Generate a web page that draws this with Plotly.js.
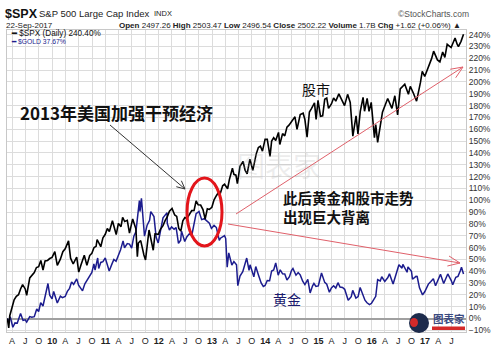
<!DOCTYPE html>
<html>
<head>
<meta charset="utf-8">
<script src="https://cdn.plot.ly/plotly-3.0.1.min.js"></script>
<style>html,body{margin:0;padding:0;background:#fff}#chart{width:500px;height:351px}</style>
</head>
<body>
<div id="chart"></div>
<script>
// ---- Data (percent change since 27-Feb-2009) ----
const spxDates = ["2009-02-27","2009-03-09","2009-03-16","2009-03-31","2009-04-15","2009-04-30","2009-05-15","2009-05-29","2009-06-12","2009-06-30","2009-07-10","2009-07-31","2009-08-14","2009-08-31","2009-09-15","2009-09-30","2009-10-15","2009-10-30","2009-11-13","2009-11-30","2009-12-15","2009-12-31",
"2010-01-19","2010-02-05","2010-02-26","2010-03-15","2010-03-31","2010-04-23","2010-05-07","2010-05-25","2010-06-18","2010-07-02","2010-07-16","2010-07-30","2010-08-09","2010-08-27","2010-09-15","2010-09-30","2010-10-15","2010-10-29","2010-11-05","2010-11-30","2010-12-15","2010-12-31",
"2011-01-14","2011-01-28","2011-02-18","2011-03-16","2011-03-31","2011-04-18","2011-04-29","2011-05-13","2011-05-31","2011-06-15","2011-06-30","2011-07-07","2011-07-29","2011-08-08","2011-08-15","2011-08-31","2011-09-22","2011-10-03","2011-10-27","2011-11-25","2011-12-07","2011-12-30",
"2012-01-13","2012-01-31","2012-02-15","2012-02-29","2012-03-15","2012-04-02","2012-04-20","2012-05-04","2012-05-18","2012-06-01","2012-06-15","2012-06-29","2012-07-13","2012-07-31","2012-08-15","2012-08-31","2012-09-14","2012-09-28","2012-10-15","2012-10-31","2012-11-15","2012-11-30","2012-12-14","2012-12-31",
"2013-01-15","2013-01-31","2013-02-15","2013-02-28","2013-03-15","2013-03-28","2013-04-18","2013-04-30","2013-05-21","2013-05-31","2013-06-14","2013-06-24","2013-07-12","2013-08-02","2013-08-16","2013-08-30","2013-09-18","2013-10-08","2013-10-31","2013-11-15","2013-11-29","2013-12-13","2013-12-31",
"2014-01-15","2014-02-03","2014-02-14","2014-02-28","2014-03-14","2014-04-02","2014-04-11","2014-04-30","2014-05-15","2014-05-30","2014-06-13","2014-06-30","2014-07-24","2014-08-07","2014-08-29","2014-09-18","2014-09-30","2014-10-15","2014-10-31","2014-11-14","2014-11-28","2014-12-05","2014-12-16","2014-12-29",
"2015-01-15","2015-01-30","2015-02-13","2015-02-27","2015-03-11","2015-03-31","2015-04-15","2015-04-30","2015-05-21","2015-06-12","2015-06-29","2015-07-20","2015-08-07","2015-08-25","2015-09-16","2015-09-29","2015-10-15","2015-11-03","2015-11-13","2015-12-01","2015-12-14","2015-12-29",
"2016-01-20","2016-01-29","2016-02-11","2016-02-29","2016-03-15","2016-04-20","2016-05-19","2016-06-08","2016-06-27","2016-07-15","2016-08-15","2016-09-09","2016-09-22","2016-10-14","2016-11-04","2016-11-30","2016-12-13","2016-12-30",
"2017-01-26","2017-02-15","2017-03-01","2017-03-27","2017-04-13","2017-05-02","2017-05-17","2017-06-02","2017-06-29","2017-07-26","2017-08-10","2017-08-18","2017-09-05","2017-09-22"];
const spxPct = [0,-7.9,2.4,8.6,15.9,18.8,20.1,25.0,28.7,25.0,19.6,34.3,36.7,38.9,43.1,43.8,49.1,41.0,48.7,49.1,50.7,51.7,
56.5,45.0,50.2,56.5,59.0,65.6,51.0,46.1,52.0,39.2,44.9,49.9,53.5,44.9,53.2,55.2,60.0,61.0,66.8,60.7,68.2,71.2,
76.1,73.6,82.7,71.0,80.4,77.6,85.6,82.0,83.0,72.2,79.7,84.2,75.8,52.2,63.8,65.9,53.7,49.5,74.8,57.7,71.6,71.2,
75.4,78.5,82.9,85.9,90.7,93.1,87.5,86.3,76.2,73.9,82.6,85.3,84.5,87.6,91.2,91.4,99.5,96.1,95.9,92.1,84.1,92.7,92.2,94.0,
100.3,103.8,106.8,106.1,112.2,113.5,109.7,117.4,127.1,121.9,121.2,114.0,128.6,132.7,125.3,122.2,134.7,125.3,139.0,144.6,145.7,141.5,151.4,
151.4,137.0,150.1,152.9,150.5,157.3,147.1,156.3,154.4,161.8,163.5,166.7,170.5,159.9,172.5,173.6,168.3,153.3,174.6,177.4,181.4,182.3,168.4,184.4,
171.0,171.4,185.3,186.4,177.6,181.4,186.5,183.8,189.9,184.9,180.0,189.5,182.7,154.1,171.4,156.1,175.2,186.9,175.2,186.1,175.1,182.7,
152.9,163.9,148.8,162.9,174.3,186.0,177.6,188.3,172.1,194.1,198.0,189.5,196.2,190.2,183.7,199.2,209.0,204.6,
212.5,219.7,226.0,218.6,216.9,225.3,220.7,231.8,229.1,237.1,231.7,229.9,234.3,240.4];

const goldDates = ["2009-02-27","2009-03-09","2009-03-19","2009-04-06","2009-04-21","2009-05-06","2009-05-29","2009-06-15","2009-06-30","2009-07-10","2009-07-31","2009-08-14","2009-08-31","2009-09-17","2009-09-30","2009-10-14","2009-10-30","2009-11-13","2009-11-30","2009-12-03","2009-12-15","2009-12-31",
"2010-01-11","2010-01-28","2010-02-05","2010-02-26","2010-03-12","2010-03-31","2010-04-15","2010-04-30","2010-05-14","2010-05-28","2010-06-18","2010-07-01","2010-07-28","2010-08-13","2010-08-31","2010-09-15","2010-09-30","2010-10-14","2010-10-22","2010-11-09","2010-11-16","2010-11-30","2010-12-15","2010-12-31",
"2011-01-27","2011-02-15","2011-02-28","2011-03-15","2011-03-31","2011-04-15","2011-05-02","2011-05-12","2011-05-31","2011-06-15","2011-06-30","2011-07-15","2011-07-29","2011-08-10","2011-08-22","2011-08-26","2011-09-05","2011-09-26","2011-10-14","2011-10-31","2011-11-08","2011-11-30","2011-12-15","2011-12-29",
"2012-01-13","2012-01-31","2012-02-28","2012-02-29","2012-03-15","2012-03-30","2012-04-16","2012-04-30","2012-05-16","2012-05-31","2012-06-06","2012-06-28","2012-07-13","2012-07-31","2012-08-15","2012-08-31","2012-09-14","2012-10-04","2012-10-22","2012-11-09","2012-11-30","2012-12-14","2012-12-28",
"2013-01-15","2013-01-31","2013-02-20","2013-02-28","2013-03-15","2013-03-28","2013-04-05","2013-04-15","2013-04-26","2013-05-17","2013-05-31","2013-06-18","2013-06-27","2013-07-12","2013-07-31","2013-08-16","2013-08-27","2013-09-12","2013-09-19","2013-10-15","2013-10-28","2013-11-15","2013-12-04","2013-12-19","2013-12-31",
"2014-01-15","2014-01-31","2014-02-14","2014-02-28","2014-03-14","2014-03-31","2014-04-14","2014-04-30","2014-05-15","2014-05-30","2014-06-16","2014-06-30","2014-07-10","2014-07-31","2014-08-15","2014-08-29","2014-09-15","2014-09-30","2014-10-20","2014-11-05","2014-11-21","2014-12-01","2014-12-15","2014-12-31",
"2015-01-22","2015-02-13","2015-02-27","2015-03-17","2015-03-31","2015-04-15","2015-04-30","2015-05-15","2015-05-29","2015-06-15","2015-06-30","2015-07-20","2015-07-24","2015-08-14","2015-08-24","2015-09-15","2015-09-30","2015-10-14","2015-10-30","2015-11-16","2015-11-30","2015-12-17","2015-12-31",
"2016-01-15","2016-01-29","2016-02-11","2016-02-29","2016-03-10","2016-03-31","2016-04-21","2016-05-02","2016-05-27","2016-06-15","2016-06-24","2016-07-06","2016-07-27","2016-08-02","2016-08-31","2016-09-06","2016-09-30","2016-10-07","2016-10-31","2016-11-08","2016-11-24","2016-12-15","2016-12-30",
"2017-01-24","2017-02-10","2017-02-27","2017-03-14","2017-03-31","2017-04-17","2017-05-09","2017-05-31","2017-06-06","2017-06-30","2017-07-10","2017-07-31","2017-08-15","2017-08-31","2017-09-08","2017-09-22"];
const goldPct = [0,-2.3,1.6,-7.4,-3.7,-3.9,4.3,-1.6,-1.1,-3.0,1.6,1.1,1.6,8.0,5.9,13.3,10.6,18.6,25.5,29.6,19.7,16.6,
22.9,15.4,13.1,18.9,17.6,18.6,22.9,25.5,30.9,28.9,33.5,28.2,23.4,29.3,32.7,35.1,39.0,46.1,41.0,51.2,42.3,47.4,48.1,51.2,
40.2,46.2,50.0,48.4,53.1,58.1,65.6,59.8,63.4,62.9,59.6,69.6,73.2,89.8,99.7,90.4,101.6,69.7,78.9,83.0,90.4,86.2,68.6,63.9,
74.5,85.1,89.5,80.5,74.8,77.4,75.5,76.9,63.6,66.2,73.9,65.1,69.1,71.8,70.2,79.8,88.6,90.5,83.6,84.4,82.1,80.5,76.2,
78.7,76.9,66.0,67.9,69.4,70.0,67.6,43.4,55.5,45.2,48.1,45.4,27.8,35.9,39.6,46.4,51.1,40.7,45.4,35.3,43.9,37.0,30.1,27.1,27.9,
32.1,31.9,40.2,41.1,47.0,36.6,41.2,37.8,37.7,32.6,35.3,40.6,42.3,36.6,38.8,36.9,31.5,28.7,33.0,21.6,27.4,29.6,27.1,27.6,
38.5,30.5,29.0,22.3,25.9,27.7,25.7,30.3,26.6,26.2,24.7,17.6,15.4,18.4,23.8,17.3,18.5,26.2,21.5,15.5,13.3,11.7,12.9,
16.0,18.8,32.8,31.7,35.3,31.4,34.6,37.9,29.1,37.0,40.6,45.4,42.6,45.7,39.1,43.6,40.0,33.2,35.6,35.5,25.9,20.0,22.6,
29.1,31.3,33.7,27.7,32.7,37.4,29.6,34.9,37.7,32.1,28.5,34.9,35.6,40.4,43.4,37.7];

const tickVals = ["2009-04-01","2009-07-01","2009-10-01","2010-01-01","2010-04-01","2010-07-01","2010-10-01","2011-01-01","2011-04-01","2011-07-01","2011-10-01","2012-01-01","2012-04-01","2012-07-01","2012-10-01","2013-01-01","2013-04-01","2013-07-01","2013-10-01","2014-01-01","2014-04-01","2014-07-01","2014-10-01","2015-01-01","2015-04-01","2015-07-01","2015-10-01","2016-01-01","2016-04-01","2016-07-01","2016-10-01","2017-01-01","2017-04-01","2017-07-01"];
const tickText = ["A","J","O","<b>10</b>","A","J","O","<b>11</b>","A","J","O","<b>12</b>","A","J","O","<b>13</b>","A","J","O","<b>14</b>","A","J","O","<b>15</b>","A","J","O","<b>16</b>","A","J","O","<b>17</b>","A","J"];

// ---- Layout helpers (pixel -> paper) ----
const L = 7, R = 466, T = 30, B = 332;
const px = x => (x - L) / (R - L);
const py = y => (B - y) / (B - T);

function arrowPath(x1, y1, x2, y2, len, ang) {
  const a = Math.atan2(y2 - y1, x2 - x1);
  const h1x = x2 - len * Math.cos(a - ang), h1y = y2 - len * Math.sin(a - ang);
  const h2x = x2 - len * Math.cos(a + ang), h2y = y2 - len * Math.sin(a + ang);
  return `M${px(x1)},${py(y1)} L${px(x2)},${py(y2)} M${px(h1x)},${py(h1y)} L${px(x2)},${py(y2)} L${px(h2x)},${py(h2y)}`;
}

const F = "Liberation Sans, Arial, sans-serif";
const CJK = "Noto Sans CJK SC, sans-serif";

const traces = [
  {x: goldDates, y: goldPct, type: "scatter", mode: "lines", line: {color: "#1c1c8e", width: 1.5}, hoverinfo: "skip"},
  {x: spxDates, y: spxPct, type: "scatter", mode: "lines", line: {color: "#000000", width: 1.6}, hoverinfo: "skip"}
];

function ann(x, y, text, size, color, opts) {
  return Object.assign({xref: "paper", yref: "paper", x: px(x), y: py(y), text: text, showarrow: false,
    xanchor: "left", yanchor: "middle", align: "left", borderpad: 0, font: {family: F, size: size, color: color}}, opts || {});
}

const annotations = [
  ann(4, 13.5, "<b>$SPX</b>", 12.5, "#111"),
  ann(38, 14, "S&P 500 Large Cap Index", 9.5, "#222"),
  ann(153, 14, "INDX", 7.5, "#222"),
  ann(5, 26, "22-Sep-2017", 8, "#222"),
  ann(118, 26, "<b>Open</b> 2497.26 <b>High</b> 2503.47 <b>Low</b> 2496.54 <b>Close</b> 2502.22 <b>Volume</b> 1.7B <b>Chg</b> +1.62 (+0.06%) ▲", 8, "#222"),
  ann(397, 14, "©StockCharts.com", 8.5, "#555"),
  ann(10, 34, "<b>━</b> $SPX (Daily) 240.40%", 8.2, "#111"),
  ann(10, 42, "<b>━</b> $GOLD 37.67%", 6.8, "#1c1c8e"),
  ann(236, 165, "图表家", 28, "rgba(170,170,170,0.22)", {font: {family: CJK, size: 28, color: "rgba(170,170,170,0.22)"}}),
  ann(19, 112, "<b>2013年美国加强干预经济</b>", 17, "#111", {font: {family: CJK, size: 17, color: "#111"}}),
  ann(301, 89, "股市", 14, "#111", {font: {family: CJK, size: 14, color: "#111"}}),
  ann(282, 207.5, "<b>此后黄金和股市走势</b><br><b>出现巨大背离</b>", 14.5, "#111", {font: {family: CJK, size: 14.5, color: "#111"}}),
  ann(272, 299, "黄金", 14, "#1a1a6e", {font: {family: CJK, size: 14, color: "#1a1a6e"}}),
  ann(432, 318, "<b>图表家</b>", 10.5, "#3a4a80", {font: {family: CJK, size: 10.5, color: "#3a4a80"}})
];

const shapes = [
  {type: "path", xref: "paper", yref: "paper", path: arrowPath(110, 125, 185, 189, 9, 0.45), line: {color: "#333", width: 1}},
  {type: "circle", xref: "paper", yref: "paper", x0: px(187), x1: px(222), y0: py(246), y1: py(178), line: {color: "#e3151b", width: 3}},
  {type: "path", xref: "paper", yref: "paper", path: arrowPath(236, 214, 463, 67, 13, 0.4), line: {color: "#e0606a", width: 1}},
  {type: "path", xref: "paper", yref: "paper", path: arrowPath(228, 224, 460, 263, 13, 0.4), line: {color: "#e0606a", width: 1}},
  {type: "circle", xref: "paper", yref: "paper", x0: px(409), x1: px(429), y0: py(333), y1: py(313), fillcolor: "#1d2b4c", line: {width: 0}},
  {type: "circle", xref: "paper", yref: "paper", x0: px(410), x1: px(418), y0: py(327), y1: py(318), fillcolor: "#d42a2a", line: {width: 0}},
  {type: "rect", xref: "paper", yref: "paper", x0: px(432), x1: px(465), y0: py(330), y1: py(326.5), fillcolor: "#d42a2a", line: {width: 0}}
];

const layout = {
  width: 500, height: 351,
  margin: {l: L, r: 500 - R, t: T, b: 351 - B, pad: 0},
  paper_bgcolor: "#fff", plot_bgcolor: "#fff",
  showlegend: false,
  xaxis: {type: "date", range: ["2009-02-25", "2017-10-09"], tickvals: tickVals, ticktext: tickText,
    showgrid: true, gridcolor: "#dcdcdc", gridwidth: 1, ticks: "", tickfont: {family: F, size: 9, color: "#222"},
    showline: true, linecolor: "#c8c8c8", mirror: true, zeroline: false, fixedrange: true},
  yaxis: {range: [-11.4, 243.9], side: "right", dtick: 10, tick0: 0, ticksuffix: "%",
    showgrid: true, gridcolor: "#dcdcdc", gridwidth: 1, ticks: "", tickfont: {family: F, size: 8.5, color: "#333"},
    zeroline: true, zerolinecolor: "#a0a0a0", zerolinewidth: 2,
    showline: true, linecolor: "#c8c8c8", mirror: true, fixedrange: true},
  annotations: annotations,
  shapes: shapes
};

Plotly.newPlot("chart", traces, layout, {staticPlot: true, displayModeBar: false});
</script>
</body>
</html>
